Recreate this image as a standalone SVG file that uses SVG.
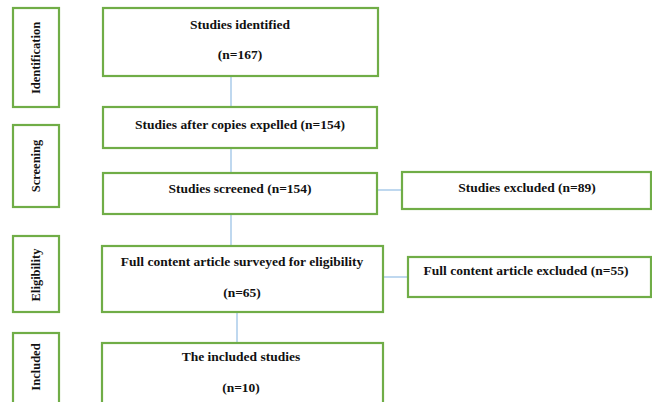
<svg xmlns="http://www.w3.org/2000/svg" width="652" height="402" viewBox="0 0 652 402">
<style>
.box{fill:#fff;stroke:#70AD47;stroke-width:2.2}
.t{font-family:"Liberation Serif","Times New Roman",serif;font-weight:bold;font-size:13.5px;fill:#111;text-anchor:middle}
.s{font-size:12.5px}
.c{stroke:#9DC3E6;stroke-width:1.3;fill:none}
</style>
<rect width="652" height="402" fill="#fff"/>
<g id="connectors">
<line class="c" x1="231" y1="76" x2="231" y2="107"/>
<line class="c" x1="231" y1="148" x2="231" y2="173"/>
<line class="c" x1="231" y1="214" x2="231" y2="246"/>
<line class="c" x1="237" y1="312" x2="237" y2="343"/>
<line class="c" x1="377" y1="190" x2="402" y2="190"/>
<line class="c" x1="383" y1="277" x2="408" y2="277"/>
</g>
<g id="stage-identification">
<rect class="box" x="13" y="8" width="46" height="99"/>
<text class="t s" transform="translate(40,58) rotate(-90)">Identification</text>
</g>
<g id="stage-screening">
<rect class="box" x="13" y="125" width="46" height="82"/>
<text class="t s" transform="translate(40,166) rotate(-90)">Screening</text>
</g>
<g id="stage-eligibility">
<rect class="box" x="13" y="236" width="46" height="76"/>
<text class="t s" transform="translate(40,275) rotate(-90)">Eligibility</text>
</g>
<g id="stage-included">
<rect class="box" x="13" y="333" width="46" height="80"/>
<text class="t s" transform="translate(40,367) rotate(-90)">Included</text>
</g>
<g id="identified">
<rect class="box" x="103" y="8" width="275" height="68"/>
<text class="t" x="240" y="29">Studies identified</text>
<text class="t" x="240" y="59">(n=167)</text>
</g>
<g id="after-copies">
<rect class="box" x="103" y="107" width="274" height="41"/>
<text class="t" x="240" y="129">Studies after copies expelled (n=154)</text>
</g>
<g id="screened">
<rect class="box" x="103" y="173" width="274" height="41"/>
<text class="t" x="240" y="193">Studies screened (n=154)</text>
</g>
<g id="excluded">
<rect class="box" x="402" y="172" width="249" height="37"/>
<text class="t" x="527" y="192">Studies excluded (n=89)</text>
</g>
<g id="fulltext">
<rect class="box" x="102" y="246" width="281" height="66"/>
<text class="t" x="242" y="266">Full content article surveyed for eligibility</text>
<text class="t" x="242" y="297">(n=65)</text>
</g>
<g id="fulltext-excluded">
<rect class="box" x="408" y="257" width="243" height="40"/>
<text class="t" x="526" y="275">Full content article excluded (n=55)</text>
</g>
<g id="included">
<rect class="box" x="102" y="343" width="281" height="70"/>
<text class="t" x="241" y="361">The included studies</text>
<text class="t" x="241" y="392">(n=10)</text>
</g>
</svg>
